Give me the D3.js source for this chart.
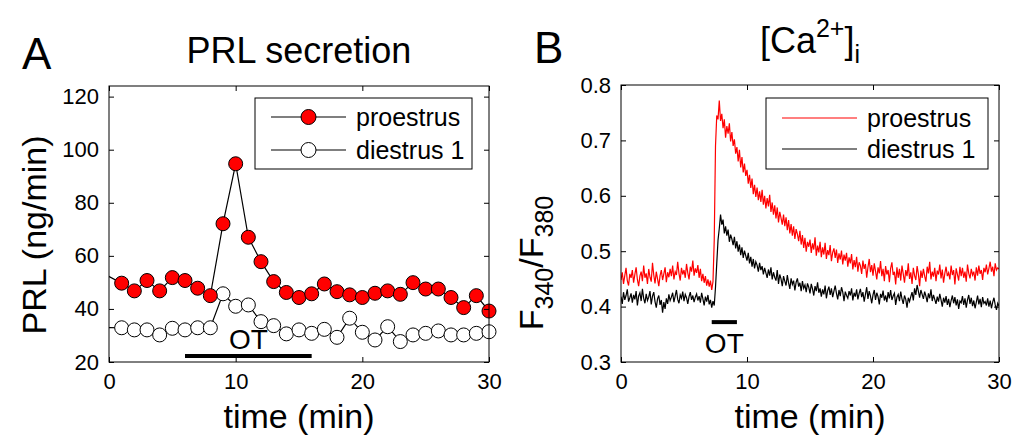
<!DOCTYPE html>
<html><head><meta charset="utf-8">
<script src="https://cdn.jsdelivr.net/npm/d3@7"></script>
<style>
body{margin:0;background:#fff;}
svg{display:block;font-family:"Liberation Sans",Arial,Helvetica,sans-serif;}
</style></head>
<body><svg id="chart" width="1020" height="441"></svg>
<script>
// ---------- Panel A data: PRL secretion (ng/min) ----------
const timeA = [-1,1,2,3,4,5,6,7,8,9,10,11,12,13,14,15,16,17,18,19,20,21,22,23,24,25,26,27,28,29,30];
const proestrusPRL = [54.7,49.7,46.8,50.7,46.8,51.8,50.7,47.8,45.0,72.1,94.7,67.0,57.8,50.3,46.2,44.3,45.7,49.4,46.5,45.3,44.3,45.9,46.8,45.5,49.9,47.5,47.5,44.3,40.5,45.0,39.2];
const diestrusPRL = [33.0,32.9,32.1,32.1,30.2,32.7,32.1,32.9,32.9,45.7,41.0,41.5,35.2,33.7,30.6,32.1,30.8,32.3,29.3,36.5,31.2,28.3,33.3,27.7,30.2,30.8,31.7,30.2,30.2,30.8,31.4];
const ticksAx = [0,10,20,30];
const ticksAy = [20,40,60,80,100,120];
const otA = [6,16];
const legendLabels = ["proestrus","diestrus 1"];

// ---------- Panel B data: F340/F380 ratio, sampled every 0.1 min from 0 to 30 ----------
const stepB = 0.1;
const proestrusCa = [
.448,.462,.441,.456,.470,.447,.438,.459,.452,.466,
.443,.458,.471,.449,.437,.455,.463,.446,.474,.452,
.460,.441,.468,.453,.445,.479,.457,.442,.463,.450,
.437,.456,.466,.448,.459,.471,.444,.462,.453,.468,
.455,.474,.449,.463,.457,.481,.460,.447,.470,.458,
.466,.452,.477,.461,.449,.472,.463,.483,.456,.469,
.461,.475,.452,.468,.446,.459,.443,.455,.438,.449,
.436,.447,.430,.445,.520,.690,.745,.738,.772,.735,
.748,.722,.738,.705,.726,.712,.731,.698,.715,.690,
.702,.676,.688,.662,.683,.651,.670,.642,.658,.636,
.647,.622,.638,.614,.631,.603,.620,.598,.615,.592,
.608,.589,.611,.584,.600,.577,.596,.581,.602,.571,
.588,.566,.583,.559,.579,.552,.571,.560,.548,.566,
.545,.561,.538,.556,.532,.549,.528,.545,.522,.540,
.531,.518,.537,.512,.529,.506,.524,.499,.517,.508,
.521,.497,.514,.503,.525,.492,.510,.498,.517,.489,
.507,.494,.515,.486,.502,.493,.511,.482,.498,.505,
.488,.503,.479,.496,.485,.501,.476,.494,.483,.497,
.472,.489,.478,.495,.467,.484,.471,.490,.463,.480,
.474,.459,.483,.468,.477,.452,.471,.486,.462,.475,
.456,.478,.464,.449,.471,.460,.482,.455,.468,.446,
.473,.458,.466,.444,.469,.480,.457,.463,.440,.471,
.452,.468,.447,.474,.459,.443,.466,.455,.478,.450,
.462,.441,.470,.456,.448,.473,.459,.437,.465,.452,
.468,.455,.445,.472,.460,.481,.449,.463,.454,.470,
.446,.465,.458,.476,.451,.467,.443,.460,.472,.455,
.461,.449,.474,.457,.466,.440,.469,.458,.447,.472,
.455,.470,.452,.463,.445,.476,.460,.451,.468,.457,
.463,.447,.471,.456,.474,.459,.466,.448,.470,.462,
.476,.458,.469,.481,.463,.472,.455,.478,.466,.470,
.468];
const diestrusCa = [
.418,.405,.426,.412,.420,.431,.409,.416,.424,.407,
.421,.413,.428,.402,.419,.425,.410,.432,.415,.406,
.423,.411,.417,.428,.404,.419,.426,.409,.398,.414,
.420,.403,.412,.389,.408,.396,.415,.405,.422,.411,
.417,.425,.408,.419,.430,.413,.406,.421,.415,.427,
.410,.422,.416,.405,.418,.426,.412,.420,.408,.417,
.423,.411,.419,.407,.425,.414,.402,.418,.409,.421,
.404,.412,.398,.410,.402,.435,.478,.520,.541,.566,
.548,.557,.532,.545,.528,.539,.517,.530,.522,.511,
.526,.505,.518,.499,.512,.493,.507,.488,.501,.492,
.483,.497,.478,.490,.472,.486,.469,.481,.475,.463,
.479,.466,.473,.458,.470,.461,.452,.467,.456,.471,
.449,.462,.453,.447,.466,.441,.458,.450,.437,.455,
.446,.438,.457,.443,.432,.451,.440,.447,.429,.444,
.451,.436,.443,.428,.446,.433,.439,.426,.442,.435,
.424,.441,.432,.420,.437,.428,.444,.425,.433,.418,
.431,.422,.438,.415,.429,.436,.421,.433,.417,.428,
.438,.424,.413,.430,.419,.435,.426,.410,.427,.420,
.415,.428,.420,.433,.411,.425,.418,.431,.413,.424,
.432,.417,.426,.409,.422,.435,.414,.428,.419,.406,
.421,.430,.412,.425,.418,.404,.423,.416,.429,.411,
.420,.408,.426,.415,.430,.412,.419,.424,.403,.417,
.422,.410,.427,.414,.405,.420,.413,.398,.416,.409,
.418,.426,.411,.433,.421,.439,.428,.416,.430,.422,
.414,.427,.419,.408,.424,.415,.431,.410,.421,.413,
.405,.418,.409,.423,.412,.400,.416,.407,.419,.403,
.414,.399,.411,.420,.406,.417,.402,.413,.396,.410,
.407,.419,.403,.415,.398,.412,.421,.405,.416,.401,
.411,.397,.408,.420,.404,.414,.399,.417,.406,.409,
.402,.415,.400,.411,.397,.408,.416,.403,.394,.406,
.401];
const ticksBx = [0,10,20,30];
const ticksBy = [0.3,0.4,0.5,0.6,0.7,0.8];
const otB = [7.2,9.2];

// ---------- drawing ----------
const svg = d3.select("#chart");
const FONT_TICK = 22, FONT_LABEL = 34, FONT_TITLE = 36;

function frame(g, x, y, xt, yt, yfmt){
  const [x0,x1] = x.range(), [y0,y1] = y.range();
  const axB = d3.axisBottom(x).tickValues(xt).tickSizeInner(-5).tickSizeOuter(0).tickPadding(11);
  const axT = d3.axisTop(x).tickValues(xt).tickSizeInner(-5).tickSizeOuter(0).tickFormat("");
  const axL = d3.axisLeft(y).tickValues(yt).tickSizeInner(-5).tickSizeOuter(0).tickPadding(10).tickFormat(yfmt);
  const axR = d3.axisRight(y).tickValues(yt).tickSizeInner(-5).tickSizeOuter(0).tickFormat("");
  const style = s => { s.select(".domain").remove(); s.selectAll("line").attr("stroke","#000");
    s.selectAll("text").attr("fill","#000").attr("font-size",FONT_TICK).attr("font-family","Liberation Sans, Arial, sans-serif"); };
  g.append("g").attr("transform",`translate(0,${y0})`).call(axB).call(style);
  g.append("g").attr("transform",`translate(0,${y1})`).call(axT).call(style);
  g.append("g").attr("transform",`translate(${x0},0)`).call(axL).call(style);
  g.append("g").attr("transform",`translate(${x1},0)`).call(axR).call(style);
  g.append("rect").attr("x",x0).attr("y",y1).attr("width",x1-x0).attr("height",y0-y1)
    .attr("fill","none").attr("stroke","#000").attr("stroke-width",1);
}

// ---- Panel A ----
const xA = d3.scaleLinear().domain([0,30]).range([109,489]);
const yA = d3.scaleLinear().domain([20,124]).range([362,86]);
const gA = svg.append("g");
svg.append("defs").append("clipPath").attr("id","clipA").append("rect")
  .attr("x",109).attr("y",86).attr("width",380).attr("height",276);
svg.select("defs").append("clipPath").attr("id","clipB").append("rect")
  .attr("x",621).attr("y",85).attr("width",378).attr("height",277);

const lineA = d3.line().x(d=>xA(d[0])).y(d=>yA(d[1]));
const seriesA = [
  {vals: diestrusPRL, fill:"#fff"},
  {vals: proestrusPRL, fill:"#ff0000"}
];
seriesA.forEach(s=>{
  const pts = timeA.map((t,i)=>[t,s.vals[i]]);
  gA.append("path").attr("d",lineA(pts)).attr("fill","none").attr("stroke","#000")
    .attr("stroke-width",1.2).attr("clip-path","url(#clipA)");
});
seriesA.forEach(s=>{
  const pts = timeA.map((t,i)=>[t,s.vals[i]]).filter(d=>d[0]>=0);
  gA.selectAll(null).data(pts).enter().append("circle")
    .attr("cx",d=>xA(d[0])).attr("cy",d=>yA(d[1])).attr("r",7)
    .attr("fill",s.fill).attr("stroke","#000").attr("stroke-width",1);
});
// OT bar A
gA.append("line").attr("x1",xA(otA[0])).attr("x2",xA(otA[1])).attr("y1",yA(22.3)).attr("y2",yA(22.3))
  .attr("stroke","#000").attr("stroke-width",4);
gA.append("text").attr("x",xA((otA[0]+otA[1])/2)).attr("y",yA(24.8)).attr("text-anchor","middle")
  .attr("font-size",28).text("OT");
frame(gA,xA,yA,ticksAx,ticksAy,d3.format("d"));
// legend A
const legA = gA.append("g");
legA.append("rect").attr("x",255).attr("y",98).attr("width",217).attr("height",71)
  .attr("fill","#fff").attr("stroke","#000").attr("stroke-width",1);
[["#ff0000",117],["#fff",150]].forEach((c,i)=>{
  legA.append("line").attr("x1",271).attr("x2",346).attr("y1",c[1]).attr("y2",c[1])
    .attr("stroke","#000").attr("stroke-width",1.2);
  legA.append("circle").attr("cx",308.5).attr("cy",c[1]).attr("r",7.5)
    .attr("fill",c[0]).attr("stroke","#000");
  legA.append("text").attr("x",356).attr("y",c[1]+9).attr("font-size",25).text(legendLabels[i]);
});
// labels A
svg.append("text").attr("x",299).attr("y",63).attr("text-anchor","middle").attr("font-size",FONT_TITLE).text("PRL secretion");
svg.append("text").attr("x",299).attr("y",428).attr("text-anchor","middle").attr("font-size",FONT_LABEL).text("time (min)");
svg.append("text").attr("transform","translate(46,235) rotate(-90)").attr("text-anchor","middle")
  .attr("font-size",FONT_LABEL).text("PRL (ng/min)");
svg.append("text").attr("x",22).attr("y",69).attr("font-size",44).text("A");

// ---- Panel B ----
const xB = d3.scaleLinear().domain([0,30]).range([621,999]);
const yB = d3.scaleLinear().domain([0.3,0.8]).range([362,85]);
const gB = svg.append("g");
const lineB = d3.line().x((d,i)=>xB(i*stepB)).y(d=>yB(d));
gB.append("path").attr("d",lineB(diestrusCa)).attr("fill","none").attr("stroke","#000")
  .attr("stroke-width",1.2).attr("clip-path","url(#clipB)");
gB.append("path").attr("d",lineB(proestrusCa)).attr("fill","none").attr("stroke","#ff0000")
  .attr("stroke-width",1.2).attr("clip-path","url(#clipB)");
gB.append("line").attr("x1",xB(otB[0])).attr("x2",xB(otB[1])).attr("y1",yB(0.372)).attr("y2",yB(0.372))
  .attr("stroke","#000").attr("stroke-width",4);
gB.append("text").attr("x",xB((otB[0]+otB[1])/2)).attr("y",353).attr("text-anchor","middle")
  .attr("font-size",28).text("OT");
frame(gB,xB,yB,ticksBx,ticksBy,d3.format(".1f"));
const legB = gB.append("g");
legB.append("rect").attr("x",766).attr("y",98).attr("width",222).attr("height",71)
  .attr("fill","#fff").attr("stroke","#000").attr("stroke-width",1);
[["#ff0000",118],["#000",149]].forEach((c,i)=>{
  legB.append("line").attr("x1",782).attr("x2",857).attr("y1",c[1]).attr("y2",c[1])
    .attr("stroke",c[0]).attr("stroke-width",1.2);
  legB.append("text").attr("x",867).attr("y",c[1]+9).attr("font-size",25).text(legendLabels[i]);
});
svg.append("text").attr("x",810).attr("y",428).attr("text-anchor","middle").attr("font-size",FONT_LABEL).text("time (min)");
svg.append("text").attr("x",534).attr("y",63).attr("font-size",44).text("B");
// title [Ca2+]i
const tB = svg.append("text").attr("x",810).attr("y",53).attr("text-anchor","middle").attr("font-size",FONT_TITLE);
tB.append("tspan").text("[Ca");
tB.append("tspan").attr("font-size",25).attr("dy",-16).text("2+");
tB.append("tspan").attr("dy",16).text("]");
tB.append("tspan").attr("font-size",25).attr("dy",10).text("i");
// ylabel F340/F380
const yl = svg.append("text").attr("transform","translate(543,263) rotate(-90)").attr("text-anchor","middle")
  .attr("font-size",FONT_LABEL);
yl.append("tspan").text("F");
yl.append("tspan").attr("font-size",25).attr("dy",10).text("340");
yl.append("tspan").attr("dy",-10).text("/F");
yl.append("tspan").attr("font-size",25).attr("dy",10).text("380");
</script></body></html>
